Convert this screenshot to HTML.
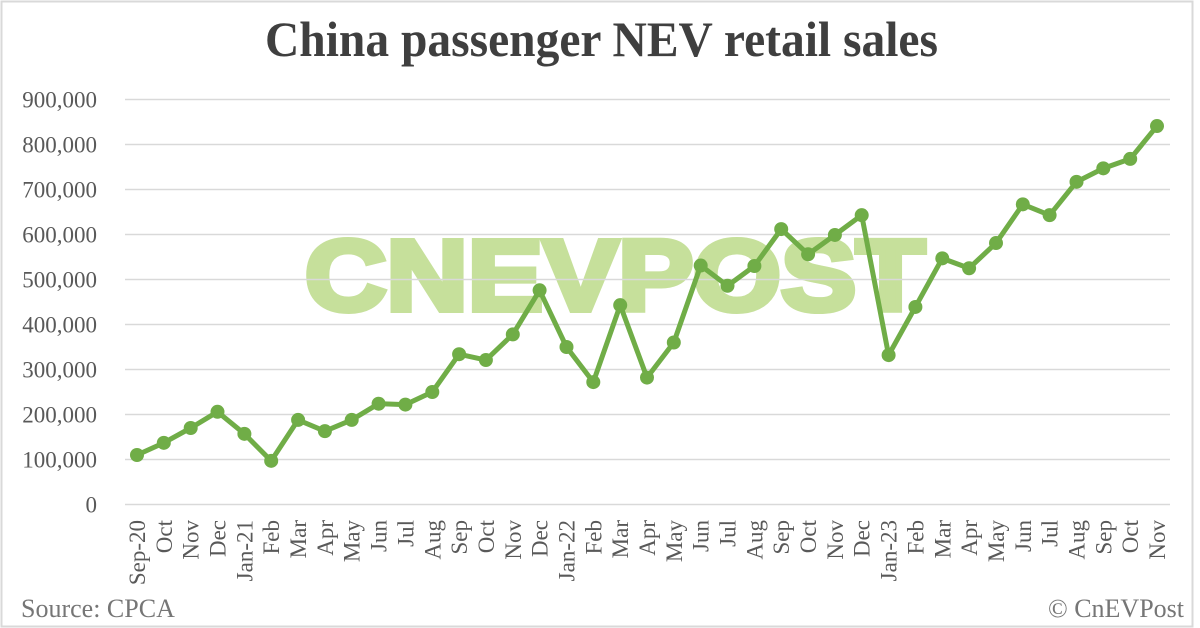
<!DOCTYPE html>
<html>
<head>
<meta charset="utf-8">
<style>
  html, body { margin: 0; padding: 0; background: #ffffff; }
  body { width: 1200px; height: 628px; overflow: hidden; }
  svg { display: block; }
</style>
</head>
<body>
<svg width="1200" height="628" viewBox="0 0 1200 628" xmlns="http://www.w3.org/2000/svg" font-family="'Liberation Serif', 'Times New Roman', serif">
  <rect x="0" y="0" width="1200" height="628" fill="#ffffff"/>
  <rect x="1.5" y="1.5" width="1191" height="625" fill="none" stroke="#d9d9d9" stroke-width="2"/>

  <!-- Title -->
  <text x="265" y="56" font-size="50" font-weight="bold" fill="#3f3f3f" textLength="673" lengthAdjust="spacingAndGlyphs">China passenger NEV retail sales</text>

  <!-- Watermark -->
  <text x="305" y="310" font-family="'Liberation Sans', Arial, sans-serif" font-weight="bold" font-size="100" fill="#c6e09b" stroke="#c6e09b" stroke-width="6" stroke-linejoin="miter" textLength="620" lengthAdjust="spacingAndGlyphs">CNEVPOST</text>

  <!-- Gridlines -->
  <g stroke="#d9d9d9" stroke-width="1.6">
    <line x1="125" y1="99.5" x2="1170" y2="99.5"/>
    <line x1="125" y1="144.5" x2="1170" y2="144.5"/>
    <line x1="125" y1="189.5" x2="1170" y2="189.5"/>
    <line x1="125" y1="234.5" x2="1170" y2="234.5"/>
    <line x1="125" y1="279.5" x2="1170" y2="279.5"/>
    <line x1="125" y1="324.5" x2="1170" y2="324.5"/>
    <line x1="125" y1="369.5" x2="1170" y2="369.5"/>
    <line x1="125" y1="414.5" x2="1170" y2="414.5"/>
    <line x1="125" y1="459.5" x2="1170" y2="459.5"/>
    <line x1="125" y1="504.5" x2="1170" y2="504.5"/>
  </g>

  <!-- Y axis labels -->
  <g font-size="23" fill="#595959" text-anchor="end">
    <text x="97" y="107.5">900,000</text>
    <text x="97" y="152.5">800,000</text>
    <text x="97" y="197.5">700,000</text>
    <text x="97" y="242.5">600,000</text>
    <text x="97" y="287.5">500,000</text>
    <text x="97" y="332.5">400,000</text>
    <text x="97" y="377.5">300,000</text>
    <text x="97" y="422.5">200,000</text>
    <text x="97" y="467.5">100,000</text>
    <text x="97" y="512.5">0</text>
  </g>

  <!-- X axis labels -->
  <g font-size="23" fill="#595959" text-anchor="end">
    <text transform="translate(145.0,520) rotate(-90)">Sep-20</text>
    <text transform="translate(171.8,520) rotate(-90)">Oct</text>
    <text transform="translate(198.7,520) rotate(-90)">Nov</text>
    <text transform="translate(225.5,520) rotate(-90)">Dec</text>
    <text transform="translate(252.4,520) rotate(-90)">Jan-21</text>
    <text transform="translate(279.2,520) rotate(-90)">Feb</text>
    <text transform="translate(306.1,520) rotate(-90)">Mar</text>
    <text transform="translate(332.9,520) rotate(-90)">Apr</text>
    <text transform="translate(359.7,520) rotate(-90)">May</text>
    <text transform="translate(386.6,520) rotate(-90)">Jun</text>
    <text transform="translate(413.4,520) rotate(-90)">Jul</text>
    <text transform="translate(440.3,520) rotate(-90)">Aug</text>
    <text transform="translate(467.1,520) rotate(-90)">Sep</text>
    <text transform="translate(493.9,520) rotate(-90)">Oct</text>
    <text transform="translate(520.8,520) rotate(-90)">Nov</text>
    <text transform="translate(547.6,520) rotate(-90)">Dec</text>
    <text transform="translate(574.5,520) rotate(-90)">Jan-22</text>
    <text transform="translate(601.3,520) rotate(-90)">Feb</text>
    <text transform="translate(628.2,520) rotate(-90)">Mar</text>
    <text transform="translate(655.0,520) rotate(-90)">Apr</text>
    <text transform="translate(681.8,520) rotate(-90)">May</text>
    <text transform="translate(708.7,520) rotate(-90)">Jun</text>
    <text transform="translate(735.5,520) rotate(-90)">Jul</text>
    <text transform="translate(762.4,520) rotate(-90)">Aug</text>
    <text transform="translate(789.2,520) rotate(-90)">Sep</text>
    <text transform="translate(816.1,520) rotate(-90)">Oct</text>
    <text transform="translate(842.9,520) rotate(-90)">Nov</text>
    <text transform="translate(869.7,520) rotate(-90)">Dec</text>
    <text transform="translate(896.6,520) rotate(-90)">Jan-23</text>
    <text transform="translate(923.4,520) rotate(-90)">Feb</text>
    <text transform="translate(950.3,520) rotate(-90)">Mar</text>
    <text transform="translate(977.1,520) rotate(-90)">Apr</text>
    <text transform="translate(1004.0,520) rotate(-90)">May</text>
    <text transform="translate(1030.8,520) rotate(-90)">Jun</text>
    <text transform="translate(1057.6,520) rotate(-90)">Jul</text>
    <text transform="translate(1084.5,520) rotate(-90)">Aug</text>
    <text transform="translate(1111.3,520) rotate(-90)">Sep</text>
    <text transform="translate(1138.2,520) rotate(-90)">Oct</text>
    <text transform="translate(1165.0,520) rotate(-90)">Nov</text>
  </g>

  <!-- Series line -->
  <polyline fill="none" stroke="#70ad47" stroke-width="5" stroke-linejoin="round" stroke-linecap="round"
    points="137.0,455.0 163.8,442.85 190.7,428.0 217.5,411.8 244.4,433.85 271.2,460.85 298.1,419.9 324.9,431.15 351.7,419.9 378.6,403.7 405.4,404.6 432.3,392.0 459.1,354.2 485.9,360.05 512.8,334.4 539.6,290.3 566.5,347.0 593.3,382.1 620.2,305.15 647.0,377.6 673.8,342.5 700.7,265.55 727.5,285.8 754.4,266.0 781.2,229.1 808.1,254.3 834.9,234.95 861.7,215.15 888.6,355.1 915.4,306.95 942.3,258.35 969.1,268.25 996.0,243.05 1022.8,204.35 1049.6,215.15 1076.5,181.85 1103.3,168.35 1130.2,158.9 1157.0,126.05"/>

  <!-- Markers -->
  <g fill="#70ad47">
    <circle cx="137.0" cy="455.0" r="7"/>
    <circle cx="163.8" cy="442.85" r="7"/>
    <circle cx="190.7" cy="428.0" r="7"/>
    <circle cx="217.5" cy="411.8" r="7"/>
    <circle cx="244.4" cy="433.85" r="7"/>
    <circle cx="271.2" cy="460.85" r="7"/>
    <circle cx="298.1" cy="419.9" r="7"/>
    <circle cx="324.9" cy="431.15" r="7"/>
    <circle cx="351.7" cy="419.9" r="7"/>
    <circle cx="378.6" cy="403.7" r="7"/>
    <circle cx="405.4" cy="404.6" r="7"/>
    <circle cx="432.3" cy="392.0" r="7"/>
    <circle cx="459.1" cy="354.2" r="7"/>
    <circle cx="485.9" cy="360.05" r="7"/>
    <circle cx="512.8" cy="334.4" r="7"/>
    <circle cx="539.6" cy="290.3" r="7"/>
    <circle cx="566.5" cy="347.0" r="7"/>
    <circle cx="593.3" cy="382.1" r="7"/>
    <circle cx="620.2" cy="305.15" r="7"/>
    <circle cx="647.0" cy="377.6" r="7"/>
    <circle cx="673.8" cy="342.5" r="7"/>
    <circle cx="700.7" cy="265.55" r="7"/>
    <circle cx="727.5" cy="285.8" r="7"/>
    <circle cx="754.4" cy="266.0" r="7"/>
    <circle cx="781.2" cy="229.1" r="7"/>
    <circle cx="808.1" cy="254.3" r="7"/>
    <circle cx="834.9" cy="234.95" r="7"/>
    <circle cx="861.7" cy="215.15" r="7"/>
    <circle cx="888.6" cy="355.1" r="7"/>
    <circle cx="915.4" cy="306.95" r="7"/>
    <circle cx="942.3" cy="258.35" r="7"/>
    <circle cx="969.1" cy="268.25" r="7"/>
    <circle cx="996.0" cy="243.05" r="7"/>
    <circle cx="1022.8" cy="204.35" r="7"/>
    <circle cx="1049.6" cy="215.15" r="7"/>
    <circle cx="1076.5" cy="181.85" r="7"/>
    <circle cx="1103.3" cy="168.35" r="7"/>
    <circle cx="1130.2" cy="158.9" r="7"/>
    <circle cx="1157.0" cy="126.05" r="7"/>
  </g>

  <!-- Footer -->
  <text x="21" y="617" font-size="26" fill="#767676">Source: CPCA</text>
  <text x="1184" y="617" font-size="26" fill="#767676" text-anchor="end">© CnEVPost</text>
</svg>
</body>
</html>
